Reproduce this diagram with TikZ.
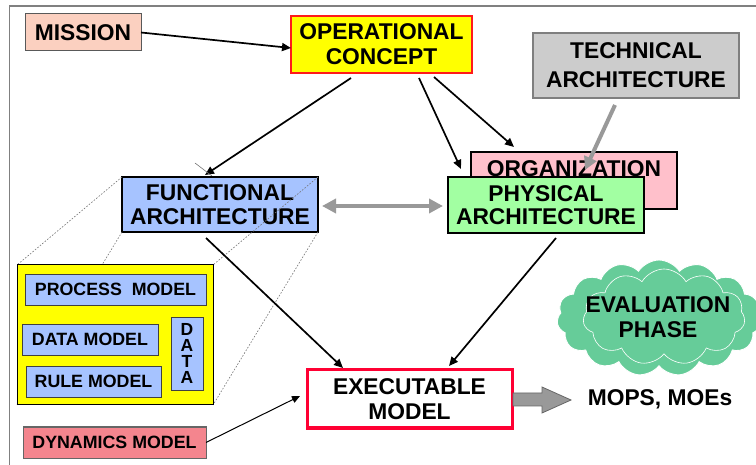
\documentclass[tikz,border=0pt]{standalone}
\usepackage{fontspec}
\setmainfont{Liberation Sans}
\usetikzlibrary{shapes.symbols,arrows.meta}

\definecolor{peach}{HTML}{FBD0C0}
\definecolor{opyellow}{HTML}{FFFF00}
\definecolor{opred}{HTML}{FF1A1A}
\definecolor{techgray}{HTML}{CCCCCC}
\definecolor{techborder}{HTML}{7F7F7F}
\definecolor{orgpink}{HTML}{FFC0CB}
\definecolor{physgreen}{HTML}{A2FFA2}
\definecolor{funcblue}{HTML}{A6C3FF}
\definecolor{dynpink}{HTML}{F4858E}
\definecolor{execred}{HTML}{FF0033}
\definecolor{cloudgreen}{HTML}{66CC99}
\definecolor{arrowgray}{HTML}{999999}
\definecolor{framegray}{HTML}{808080}

\begin{document}
\begin{tikzpicture}[x=1pt,y=-1pt,
  box/.style={draw, inner sep=0pt, outer sep=0pt, align=center, text=black,
    font=\bfseries\fontsize{22.8}{25}\selectfont},
  smallbox/.style={box, fill=funcblue, draw=black!75, line width=0.9pt,
    font=\bfseries\fontsize{17.8}{20}\selectfont, minimum height=31pt},
  conn/.style={line width=1.7pt, -{Triangle[length=9pt,width=8pt]}},
  thinconn/.style={line width=1pt, -{Triangle[length=8pt,width=7pt]}},
  grayconn/.style={line width=4pt, draw=arrowgray, -{Triangle[length=13pt,width=13pt]}},
  grayboth/.style={line width=4pt, draw=arrowgray, {Triangle[length=14pt,width=14pt]}-{Triangle[length=14pt,width=14pt]}},
  proj/.style={draw=black!55, line width=0.6pt, dash pattern=on 1.6pt off 1.6pt},
]
\useasboundingbox (0,0) rectangle (756,465);

% outer frame
\draw[framegray, line width=1.2pt] (9.5,465) -- (9.5,6) -- (756,6);

% top row
\node[box, fill=peach, draw=black!65, line width=1pt,
  minimum width=116pt, minimum height=37pt] (mission) at (83,32.5) {MISSION};
\node[box, fill=opyellow, draw=opred, line width=2pt,
  minimum width=181pt, minimum height=57pt] (op) at (381.5,44.5) {OPERATIONAL\\CONCEPT};
\node[box, fill=techgray, draw=techborder, line width=1.2pt,
  font=\bfseries\fontsize{22.8}{29}\selectfont,
  minimum width=206pt, minimum height=65pt] (tech) at (636,65.5) {TECHNICAL\\ARCHITECTURE};

% architectures
\node[box, fill=orgpink, draw=black, line width=1.6pt,
  minimum width=206pt, minimum height=57pt,
  label={[font=\bfseries\fontsize{22.8}{25}\selectfont, anchor=north, inner sep=0pt, yshift=-8pt]north:ORGANIZATION}]
  (org) at (574,180.5) {};
\draw[grayconn] ([xshift=-21pt,yshift=-7pt]tech.south) -- ([xshift=11pt,yshift=-18pt]org.north);
\node[box, fill=physgreen, draw=black, line width=1.6pt,
  font=\bfseries\fontsize{22.8}{23.5}\selectfont,
  minimum width=196pt, minimum height=56pt] (phys) at (546,205) {PHYSICAL\\ARCHITECTURE};
\node[box, fill=funcblue, draw=black, line width=1.6pt,
  font=\bfseries\fontsize{22.8}{23.5}\selectfont,
  minimum width=196pt, minimum height=55pt] (func) at (220,204.5) {FUNCTIONAL\\ARCHITECTURE};

% projection of the functional architecture onto its models
\draw[proj] (func.north west) -- (17,265) coordinate (ynw);
\draw[proj] (func.north east) -- (213,265) coordinate (yne);
\draw[proj] (func.south west) -- (17,405) coordinate (ysw);
\draw[proj] (func.south east) -- (213,405) coordinate (yse);

% functional models
\node[box, fill=opyellow, draw=black, line width=1pt,
  minimum width=196pt, minimum height=140pt] (models) at (115,335) {};
\node[smallbox, minimum width=181pt] (process) at (115.5,289.5) {PROCESS\ \ MODEL};
\node[smallbox, minimum width=136pt] (datamodel) at (90,339.5) {DATA MODEL};
\node[smallbox, minimum width=135pt] (rulemodel) at (93.5,381.5) {RULE MODEL};
\node[smallbox, minimum width=32pt, minimum height=73pt,
  font=\bfseries\fontsize{17.5}{15.8}\selectfont] (data) at (187,353.5) {D\\A\\T\\A};

% dynamics and executable model
\node[box, fill=dynpink, draw=black!60, line width=1pt,
  font=\bfseries\fontsize{17.8}{20}\selectfont,
  minimum width=183pt, minimum height=31pt] (dyn) at (114.5,442.5) {DYNAMICS MODEL};
\node[box, fill=white, draw=execred, line width=3pt,
  minimum width=205pt, minimum height=58pt] (exec) at (409.5,399) {EXECUTABLE\\MODEL};

% evaluation phase cloud
\node[cloud, cloud puffs=15, cloud puff arc=115, aspect=1.85,
  fill=cloudgreen, draw=white, line width=0.9pt,
  minimum width=204pt, minimum height=116pt, inner sep=0pt] (cloud) at (659,318) {};
\node[cloud, cloud puffs=11, cloud puff arc=120, aspect=1.8,
  draw=white, line width=0.6pt,
  minimum width=162pt, minimum height=96pt, inner sep=0pt] (cloudinner) at (664,317) {};
\node[font=\bfseries\fontsize{22.8}{25}\selectfont, align=center, inner sep=0pt]
  (eval) at (658,317) {EVALUATION\\PHASE};

\node[font=\bfseries\fontsize{22.8}{25}\selectfont, inner sep=0pt] (mops) at (660,399.5) {MOPS, MOEs};

% connectors
\draw[conn] (mission.east) -- ([yshift=-3.5pt]op.west);
\draw[conn] ([xshift=-30.5pt,yshift=-5pt]op.south) -- ([xshift=-15pt,yshift=2pt]func.north);
\draw[conn] ([xshift=37.5pt,yshift=-5pt]op.south) -- ([xshift=-85pt,yshift=8pt]phys.north);
\draw[conn] ([xshift=52.5pt,yshift=-4pt]op.south) -- ([xshift=-60pt,yshift=5pt]org.north);
\draw[grayboth] ([xshift=4pt,yshift=-1.5pt]func.east) -- ([xshift=-5pt,yshift=-1pt]phys.west);
\draw[conn] ([xshift=-14pt,yshift=-6pt]func.south) -- ([xshift=-66.5pt,yshift=2pt]exec.north);
\draw[conn] ([xshift=10pt,yshift=-5pt]phys.south) -- ([xshift=39.5pt,yshift=4pt]exec.north);
\draw[thinconn] (dyn.east) -- ([xshift=-7pt,yshift=3pt]exec.west);
\draw[black!55, line width=0.6pt] ([xshift=-25pt,yshift=14pt]func.north) -- ([xshift=-8pt,yshift=1pt]func.north);

% block arrow towards the measures
\draw[shift={(exec.east)}, fill=arrowgray, draw=black!60, line width=0.8pt]
  (1,-6) -- (30,-6) -- (30,-12) -- (59,1) -- (30,14) -- (30,7) -- (1,7) -- cycle;
\end{tikzpicture}
\end{document}
